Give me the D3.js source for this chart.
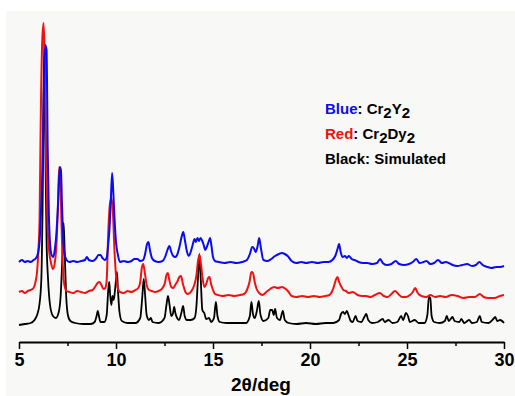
<!DOCTYPE html>
<html>
<head>
<meta charset="utf-8">
<script src="https://cdn.jsdelivr.net/npm/d3@7"></script>
<style>
  body { margin: 0; background: #ffffff; }
  svg { display: block; }
</style>
</head>
<body>
<script>
// 2theta (deg), intensity (a.u., stacked offsets included)
var simulated = [
  [5.0,17],[5.3,18],[5.6,19],[5.8,22],[5.95,28],[6.05,37],[6.15,62],[6.22,142],[6.3,302],[6.36,192],[6.42,102],
  [6.5,62],[6.6,37],[6.75,26],[6.9,24],[7.05,30],[7.15,47],[7.23,82],[7.3,119],[7.36,87],[7.43,47],[7.52,27],
  [7.65,21],[7.9,19],[8.3,18],[8.7,18],[8.9,20],[9.0,26],[9.06,31],[9.12,26],[9.2,20],[9.4,20],[9.52,27],
  [9.6,52],[9.65,60],[9.7,47],[9.76,37],[9.82,46],[9.88,42],[9.94,50],[10.0,62],[10.05,70],[10.1,52],[10.18,30],
  [10.3,21],[10.6,19],[11.0,19],[11.25,24],[11.35,44],[11.43,63],[11.5,47],[11.58,27],[11.7,22],[11.8,24],
  [11.88,20],[12.2,19],[12.5,24],[12.6,37],[12.68,46],[12.76,37],[12.85,26],[12.93,28],[13.0,35],[13.06,29],
  [13.15,24],[13.25,22],[13.38,30],[13.46,36],[13.54,26],[13.65,22],[13.85,22],[14.05,24],[14.15,37],[14.22,62],
  [14.3,88],[14.37,62],[14.45,32],[14.55,29],[14.65,23],[14.8,24],[14.9,20],[15.05,24],[15.15,40],[15.23,26],
  [15.35,20],[15.7,19],[16.2,19],[16.7,19],[16.9,26],[16.98,40],[17.06,28],[17.15,24],[17.25,30],[17.36,41],
  [17.45,27],[17.6,21],[17.85,24],[17.95,32],[18.05,32],[18.13,27],[18.2,33],[18.3,24],[18.45,22],[18.6,31],
  [18.7,22],[18.9,19],[19.3,18],[19.8,19],[20.3,18],[20.8,19],[21.2,19],[21.5,22],[21.6,28],[21.7,30],[21.8,28],
  [21.9,31],[22.0,26],[22.1,21],[22.2,20],[22.35,26],[22.45,21],[22.65,20],[22.8,25],[22.9,28],[23.0,22],
  [23.2,19],[23.5,20],[23.75,23],[23.85,20],[24.05,22],[24.25,19],[24.5,20],[24.7,26],[24.8,22],[24.95,29],
  [25.05,26],[25.15,20],[25.4,22],[25.6,19],[25.9,19],[26.05,27],[26.13,45],[26.2,44],[26.27,26],[26.4,20],
  [26.7,19],[26.95,21],[27.05,26],[27.15,21],[27.35,25],[27.45,21],[27.7,20],[27.8,23],[27.95,19],[28.2,22],
  [28.35,19],[28.6,20],[28.75,26],[28.85,20],[29.2,19],[29.45,23],[29.55,25],[29.65,21],[29.8,22],[30.0,19]
];

var cr2dy2 = [
  [5.0,50],[5.15,51],[5.3,49],[5.45,51],[5.6,52],[5.75,54],[5.85,60],[5.93,70],[6.0,92],[6.06,122],[6.12,222],
  [6.2,302],[6.27,319],[6.33,282],[6.4,182],[6.47,117],[6.55,92],[6.65,79],[6.75,73],[6.85,80],[6.93,97],
  [7.0,132],[7.07,175],[7.13,162],[7.2,112],[7.27,72],[7.35,56],[7.45,51],[7.6,50],[7.8,49],[8.0,51],[8.2,50],
  [8.4,49],[8.6,51],[8.8,52],[8.95,56],[9.05,59],[9.15,60],[9.25,57],[9.35,53],[9.45,54],[9.52,62],[9.6,109],
  [9.68,137],[9.76,144],[9.84,130],[9.92,92],[10.0,67],[10.08,55],[10.2,50],[10.4,49],[10.6,51],[10.8,50],
  [11.0,52],[11.15,54],[11.25,60],[11.33,74],[11.4,78],[11.48,70],[11.58,57],[11.7,52],[11.85,51],[12.0,50],
  [12.2,51],[12.4,54],[12.52,59],[12.6,67],[12.67,69],[12.75,62],[12.85,55],[12.95,54],[13.05,57],[13.15,60],
  [13.27,65],[13.35,66],[13.45,58],[13.58,50],[13.7,48],[13.8,49],[13.95,53],[14.05,58],[14.15,67],[14.22,80],
  [14.3,87],[14.38,78],[14.46,64],[14.56,55],[14.65,58],[14.75,64],[14.82,65],[14.9,58],[15.0,52],[15.1,48],
  [15.25,47],[15.5,46],[15.8,47],[16.1,46],[16.4,47],[16.6,48],[16.75,52],[16.88,60],[16.98,70],[17.06,69],
  [17.15,60],[17.25,53],[17.38,49],[17.55,47],[17.75,50],[17.95,53],[18.15,55],[18.35,54],[18.55,55],[18.75,53],
  [18.9,50],[19.05,46],[19.3,45],[19.6,46],[19.9,45],[20.2,46],[20.5,45],[20.8,46],[21.0,47],[21.15,51],
  [21.27,58],[21.35,63],[21.42,65],[21.5,60],[21.6,56],[21.72,52],[21.85,51],[22.0,49],[22.2,50],[22.45,47],
  [22.7,46],[22.9,46],[23.1,45],[23.35,47],[23.6,49],[23.8,46],[24.0,45],[24.2,48],[24.38,51],[24.55,48],
  [24.75,45],[24.95,45],[25.15,47],[25.3,50],[25.42,54],[25.55,49],[25.75,46],[26.0,45],[26.2,47],[26.45,45],
  [26.7,46],[27.0,45],[27.3,47],[27.6,46],[27.9,44],[28.2,45],[28.5,45],[28.75,48],[28.95,45],[29.2,44],
  [29.5,44],[29.8,46],[30.0,47]
];

var cr2y2 = [
  [5.0,80],[5.15,82],[5.3,80],[5.45,81],[5.6,80],[5.75,82],[5.88,84],[5.98,89],[6.06,100],[6.13,129],[6.2,170],
  [6.27,240],[6.35,297],[6.42,292],[6.48,192],[6.54,127],[6.6,99],[6.68,87],[6.76,85],[6.85,93],[6.94,112],
  [7.02,140],[7.1,175],[7.16,172],[7.22,135],[7.28,102],[7.35,88],[7.45,82],[7.6,80],[7.8,81],[8.0,80],[8.2,81],
  [8.4,82],[8.5,85],[8.6,82],[8.8,81],[8.95,83],[9.1,87],[9.2,87],[9.3,84],[9.42,82],[9.52,84],[9.6,98],
  [9.66,112],[9.73,140],[9.8,169],[9.86,150],[9.92,125],[10.0,100],[10.1,87],[10.2,80],[10.4,81],[10.6,80],
  [10.8,81],[10.95,83],[11.1,83],[11.25,81],[11.4,82],[11.5,88],[11.6,98],[11.67,100],[11.75,92],[11.85,84],
  [12.0,81],[12.2,80],[12.4,81],[12.55,86],[12.65,92],[12.75,96],[12.85,90],[12.95,86],[13.05,85],[13.15,87],
  [13.27,95],[13.38,105],[13.47,110],[13.55,102],[13.65,91],[13.75,86],[13.85,90],[13.95,97],[14.05,103],
  [14.12,100],[14.2,104],[14.28,101],[14.36,104],[14.45,101],[14.52,97],[14.6,92],[14.68,95],[14.77,100],
  [14.85,104],[14.92,96],[15.0,85],[15.1,81],[15.3,80],[15.6,79],[15.9,80],[16.2,79],[16.5,80],[16.75,82],
  [16.9,88],[17.02,95],[17.1,94],[17.2,90],[17.3,96],[17.38,104],[17.46,95],[17.6,82],[17.8,81],[18.0,83],
  [18.2,86],[18.4,88],[18.55,89],[18.7,88],[18.85,86],[19.05,81],[19.3,79],[19.55,80],[19.8,79],[20.1,80],
  [20.4,79],[20.7,80],[20.95,80],[21.15,82],[21.3,86],[21.42,93],[21.5,98],[21.58,90],[21.68,85],[21.8,86],
  [21.9,84],[22.0,86],[22.15,83],[22.3,82],[22.5,80],[22.75,79],[22.95,79],[23.2,78],[23.45,79],[23.62,83],
  [23.75,79],[23.95,77],[24.2,78],[24.42,81],[24.6,78],[24.85,77],[25.1,78],[25.3,80],[25.48,83],[25.65,79],
  [25.85,80],[26.0,81],[26.2,78],[26.4,79],[26.6,82],[26.8,79],[27.0,80],[27.15,79],[27.35,77],[27.6,76],
  [27.85,77],[28.1,78],[28.35,76],[28.55,77],[28.73,80],[28.9,77],[29.15,75],[29.35,74],[29.6,75],[29.8,75],
  [30.0,76]
];

var majorTicks = [5, 10, 15, 20, 25, 30];
var minorTicks = [7.5, 12.5, 17.5, 22.5, 27.5];

var width = 515, height = 396;

var svg = d3.select("body").append("svg")
    .attr("width", width)
    .attr("height", height)
    .style("font-family", "Arial, 'Liberation Sans', sans-serif");

// faint paper background
svg.append("rect")
    .attr("x", 6).attr("y", 11)
    .attr("width", width - 6).attr("height", height - 11)
    .attr("fill", "#f8f8f6");

var xScale = d3.scaleLinear().domain([5, 30]).range([19, 504]);
var yScale = d3.scaleLinear().domain([0, 320]).range([342, 22]);

var line = d3.line()
    .x(function(d) { return xScale(d[0]); })
    .y(function(d) { return yScale(d[1]); })
    .curve(d3.curveMonotoneX);

// black underneath, then red, blue on top
var series = [
    {data: simulated, color: "#000000", w: 1.8},
    {data: cr2dy2, color: "#f01212", w: 2},
    {data: cr2y2, color: "#0a0af5", w: 2}
];

series.forEach(function(s) {
    svg.append("path")
        .datum(s.data)
        .attr("fill", "none")
        .attr("stroke", s.color)
        .attr("stroke-width", s.w)
        .attr("stroke-linejoin", "round")
        .attr("d", line);
});

// x axis
var xaxis = svg.append("g")
    .attr("transform", "translate(0,342)");

xaxis.append("g")
    .call(d3.axisBottom(xScale).tickValues(minorTicks).tickSize(4).tickFormat(""))
    .call(function(g) { g.select(".domain").remove(); })
    .selectAll("line").attr("stroke-width", 1.5);

xaxis.append("g")
    .call(d3.axisBottom(xScale).tickValues(majorTicks).tickSize(7).tickSizeOuter(0).tickFormat(d3.format("d")))
    .call(function(g) {
        g.select(".domain").attr("stroke-width", 2);
        g.selectAll("line").attr("stroke-width", 1.5);
        g.selectAll("text")
            .attr("y", 11)
            .attr("font-size", "18px")
            .attr("font-weight", "bold")
            .attr("font-family", "Arial, 'Liberation Sans', sans-serif")
            .attr("fill", "#000");
    });

svg.append("text")
    .attr("x", 261)
    .attr("y", 391)
    .attr("text-anchor", "middle")
    .attr("font-size", "19px")
    .attr("font-weight", "bold")
    .text("2θ/deg");

// legend
var legend = [
    {label: "Blue", color: "#0a0af5", rest: [["Cr", 0], ["2", 1], ["Y", 0], ["2", 1]]},
    {label: "Red", color: "#f01212", rest: [["Cr", 0], ["2", 1], ["Dy", 0], ["2", 1]]},
    {label: "Black", color: "#000000", rest: [["Simulated", 0]]}
];

legend.forEach(function(l, i) {
    var t = svg.append("text")
        .attr("x", 325)
        .attr("y", 114 + i * 25)
        .attr("font-size", "15px")
        .attr("font-weight", "bold");
    t.append("tspan").attr("fill", l.color).text(l.label);
    t.append("tspan").attr("fill", "#000").text(": ");
    var shifted = false;
    l.rest.forEach(function(p) {
        var ts = t.append("tspan").attr("fill", "#000").text(p[0]);
        if (p[1] && !shifted) { ts.attr("dy", 4); shifted = true; }
        else if (!p[1] && shifted) { ts.attr("dy", -4); shifted = false; }
    });
});
</script>
</body>
</html>
